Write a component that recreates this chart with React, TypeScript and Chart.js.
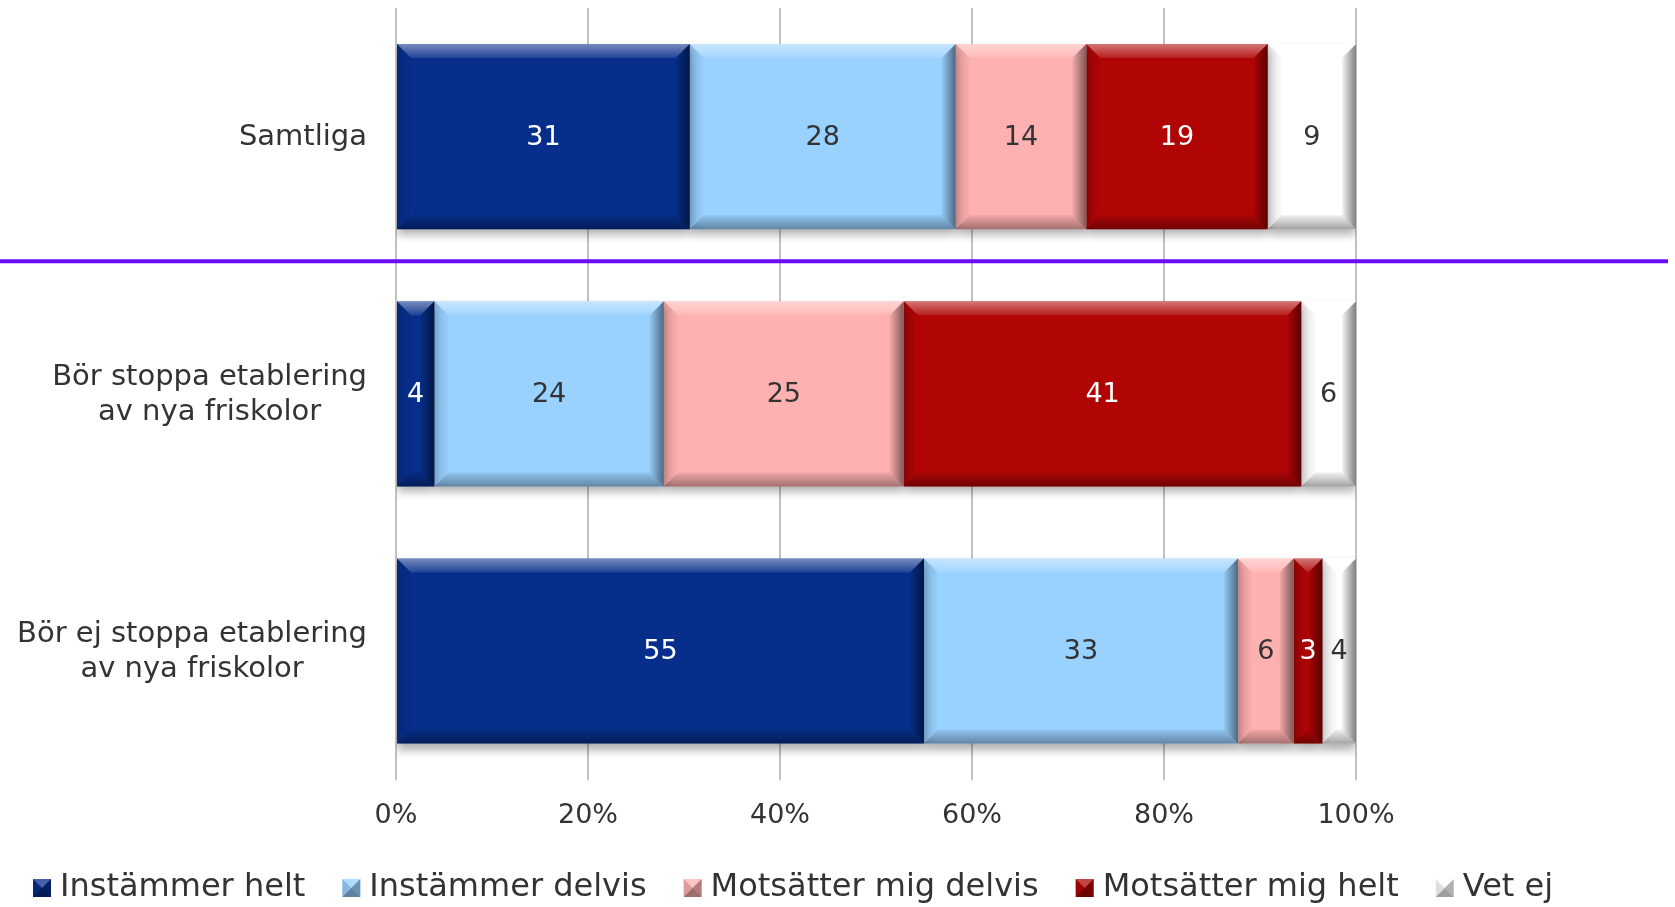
import React, { useEffect, useRef } from "react";
import { Chart, registerables } from "chart.js";

Chart.register(...registerables);

// ---------- data (percent of each row; labels show rounded values) ----------
const categories: string[][] = [
  ["Samtliga"],
  ["Bör stoppa etablering", "av nya friskolor"],
  ["Bör ej stoppa etablering", "av nya friskolor"],
];
const seriesNames = [
  "Instämmer helt",
  "Instämmer delvis",
  "Motsätter mig delvis",
  "Motsätter mig helt",
  "Vet ej",
];
const instammerHelt = [30.6, 4.0, 55.0];
const instammerDelvis = [27.7, 23.9, 32.7];
const motsatterMigDelvis = [13.6, 25.0, 5.8];
const motsatterMigHelt = [18.9, 41.4, 3.0];
const vetEj = [9.2, 5.7, 3.5];
const xTickValues = [0, 20, 40, 60, 80, 100];

// ---------- styles ----------
const seriesColors = ["#062e8a", "#99d1ff", "#ffb0b0", "#b10505", "#ffffff"];
const valueLabelColors = ["#ffffff", "#333333", "#333333", "#ffffff", "#333333"];
const FONT = '"DejaVu Sans", Verdana, sans-serif';
const TEXT = "#333333";
const SEPARATOR_AT = 0.485; // category units between first and second row

const seriesValues = [instammerHelt, instammerDelvis, motsatterMigDelvis, motsatterMigHelt, vetEj];

function poly(ctx: CanvasRenderingContext2D, pts: number[][], fill: any) {
  ctx.beginPath();
  ctx.moveTo(pts[0][0], pts[0][1]);
  for (let k = 1; k < pts.length; k++) ctx.lineTo(pts[k][0], pts[k][1]);
  ctx.closePath();
  ctx.fillStyle = fill;
  ctx.fill();
}

function lin(ctx: CanvasRenderingContext2D, x0: number, y0: number, x1: number, y1: number, c0: string, c1: string) {
  const g = ctx.createLinearGradient(x0, y0, x1, y1);
  g.addColorStop(0, c0);
  g.addColorStop(1, c1);
  return g;
}

function drawBevel(ctx: CanvasRenderingContext2D, l: number, t: number, r: number, b: number, size: number) {
  const w = r - l;
  const h = b - t;
  if (w <= 0 || h <= 0) return;
  const bv = Math.min(size, w / 2, h / 2);
  poly(ctx, [[l, t], [r, t], [r - bv, t + bv], [l + bv, t + bv]],
    lin(ctx, 0, t, 0, t + bv, "rgba(255,255,255,0.45)", "rgba(255,255,255,0.10)"));
  poly(ctx, [[l, b], [r, b], [r - bv, b - bv], [l + bv, b - bv]],
    lin(ctx, 0, b - bv, 0, b, "rgba(0,0,0,0.06)", "rgba(0,0,0,0.36)"));
  poly(ctx, [[l, t], [l + bv, t + bv], [l + bv, b - bv], [l, b]],
    lin(ctx, l, 0, l + bv, 0, "rgba(0,0,0,0.12)", "rgba(0,0,0,0.02)"));
  poly(ctx, [[r, t], [r - bv, t + bv], [r - bv, b - bv], [r, b]],
    lin(ctx, r - bv, 0, r, 0, "rgba(0,0,0,0.04)", "rgba(0,0,0,0.5)"));
}

const decorPlugin = {
  id: "decor",
  beforeDatasetsDraw(chart: any) {
    const ctx = chart.ctx as CanvasRenderingContext2D;
    ctx.save();
    ctx.shadowColor = "rgba(0,0,0,0.32)";
    ctx.shadowBlur = 9;
    ctx.shadowOffsetY = 6;
  },
  afterDatasetsDraw(chart: any) {
    const ctx = chart.ctx as CanvasRenderingContext2D;
    ctx.restore();
    ctx.save();
    chart.data.datasets.forEach((ds: any, di: number) => {
      const meta = chart.getDatasetMeta(di);
      meta.data.forEach((el: any, i: number) => {
        const p = el.getProps(["x", "y", "base", "height"], true);
        const l = Math.min(p.x, p.base);
        const r = Math.max(p.x, p.base);
        const t = p.y - p.height / 2;
        const b = p.y + p.height / 2;
        drawBevel(ctx, l, t, r, b, 14);
        ctx.font = `27px ${FONT}`;
        ctx.textAlign = "center";
        ctx.textBaseline = "middle";
        ctx.fillStyle = valueLabelColors[di];
        ctx.fillText(String(Math.round(ds.data[i])), (l + r) / 2, p.y + 1);
      });
    });
    ctx.restore();
  },
  afterDraw(chart: any) {
    const ctx = chart.ctx as CanvasRenderingContext2D;
    const area = chart.chartArea;
    const yScale = chart.scales.y;
    ctx.save();

    // separator line
    const sy = yScale.getPixelForValue(SEPARATOR_AT);
    ctx.strokeStyle = "#6a0df5";
    ctx.lineWidth = 4;
    ctx.beginPath();
    ctx.moveTo(0, sy);
    ctx.lineTo(chart.width - 7, sy);
    ctx.stroke();

    // category labels (right aligned block, lines centred)
    ctx.font = `29px ${FONT}`;
    ctx.fillStyle = TEXT;
    ctx.textAlign = "center";
    ctx.textBaseline = "middle";
    const lineH = 35;
    categories.forEach((lines, i) => {
      const yc = yScale.getPixelForValue(i);
      const maxW = Math.max(...lines.map((s) => ctx.measureText(s).width));
      const cx = area.left - 29 - maxW / 2;
      const y0 = yc - ((lines.length - 1) * lineH) / 2 + 1;
      lines.forEach((s, k) => ctx.fillText(s, cx, y0 + k * lineH));
    });

    // legend
    ctx.font = `32px ${FONT}`;
    ctx.textAlign = "left";
    const box = 18;
    const ly = 888;
    let x = 33;
    seriesNames.forEach((name, i) => {
      const bx = x;
      const by = ly - box / 2;
      ctx.fillStyle = seriesColors[i];
      ctx.fillRect(bx, by, box, box);
      const cx = bx + box / 2;
      const cy = by + box / 2;
      poly(ctx, [[bx, by], [bx + box, by], [cx, cy]], "rgba(255,255,255,0.25)");
      poly(ctx, [[bx + box, by], [bx + box, by + box], [cx, cy]], "rgba(0,0,0,0.30)");
      poly(ctx, [[bx, by + box], [bx + box, by + box], [cx, cy]], "rgba(0,0,0,0.38)");
      poly(ctx, [[bx, by], [bx, by + box], [cx, cy]], "rgba(0,0,0,0.12)");
      ctx.fillStyle = TEXT;
      ctx.fillText(name, bx + box + 9, ly);
      x = bx + box + 9 + ctx.measureText(name).width + 37;
    });
    ctx.restore();
  },
};

export default function App() {
  const canvasRef = useRef<HTMLCanvasElement | null>(null);

  useEffect(() => {
    if (!canvasRef.current) return;
    const datasets = seriesNames.map((name, si) => ({
      label: name,
      data: seriesValues[si],
      backgroundColor: seriesColors[si],
      borderWidth: 0,
      categoryPercentage: 0.72,
      barPercentage: 1,
    }));

    const chart = new Chart(canvasRef.current, {
      type: "bar",
      data: { labels: categories, datasets: datasets as any },
      plugins: [decorPlugin as any],
      options: {
        indexAxis: "y",
        responsive: false,
        animation: false,
        devicePixelRatio: 1,
        layout: { padding: { left: 396, right: 319, top: 8, bottom: 55 } },
        plugins: {
          legend: { display: false },
          tooltip: { enabled: false },
        },
        scales: {
          x: {
            stacked: true,
            min: 0,
            max: 100,
            afterBuildTicks: (s: any) => {
              s.ticks = xTickValues.map((v) => ({ value: v }));
            },
            ticks: {
              callback: (v: any) => `${v}%`,
              color: TEXT,
              font: { family: FONT, size: 27 },
              padding: 20,
              maxRotation: 0,
            },
            grid: { color: "#c2c2c2", lineWidth: 2, drawTicks: false },
            border: { display: false },
          },
          y: {
            stacked: true,
            display: false,
          },
        },
      } as any,
    });
    return () => chart.destroy();
  }, []);

  return (
    <div style={{ position: "fixed", left: 0, top: 0, width: 1675, height: 907, background: "#fff" }}>
      <canvas ref={canvasRef} width={1675} height={907} />
    </div>
  );
}
